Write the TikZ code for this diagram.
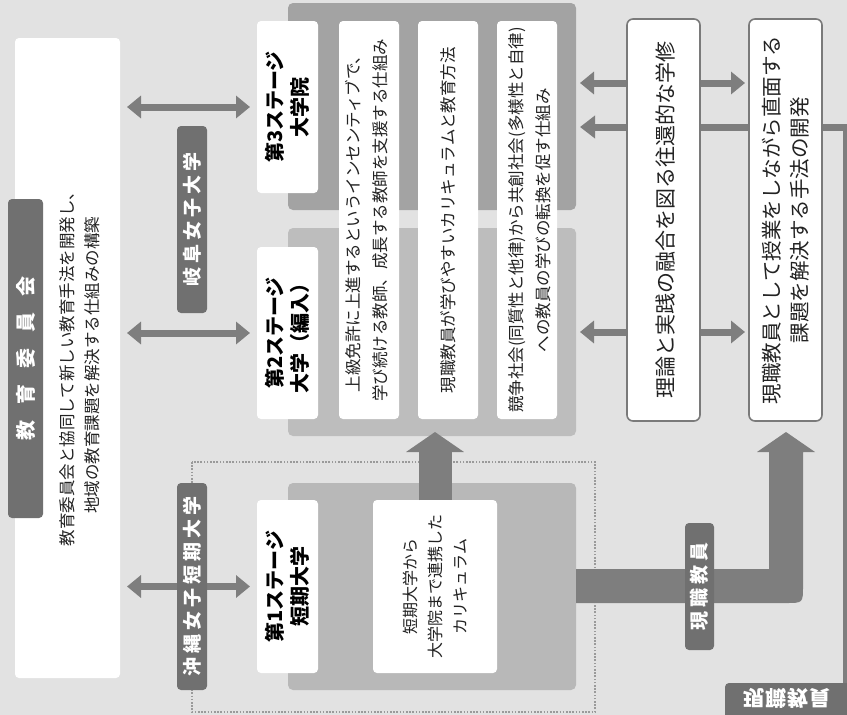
\documentclass[tikz,border=0pt]{standalone}
\usepackage{fontspec}
\setmainfont{Noto Sans CJK JP}
\usetikzlibrary{arrows.meta,calc}
\definecolor{bgc}{HTML}{E2E2E2}
\definecolor{gthree}{HTML}{A3A3A3}
\definecolor{gtwo}{HTML}{BDBDBD}
\definecolor{gone}{HTML}{B8B8B8}
\definecolor{labc}{HTML}{707070}
\definecolor{arrc}{HTML}{7E7E7E}
\definecolor{borderc}{HTML}{7A7A7A}
\definecolor{dotc}{HTML}{9A9A9A}
\definecolor{txtc}{HTML}{222222}
\tikzset{
  grp/.style={rounded corners=5pt, inner sep=0pt, outer sep=0pt},
  wbox/.style={fill=white, rounded corners=4pt, inner sep=0pt, outer sep=0pt},
  rbox/.style={fill=white, draw=borderc, line width=1.6pt, rounded corners=6pt, inner sep=0pt, outer sep=0pt},
  lab/.style={fill=labc, rounded corners=4pt, inner sep=0pt, outer sep=0pt},
  vtext/.style={rotate=90, align=center, inner sep=0pt, text=txtc},
  labtext/.style={rotate=90, align=center, inner sep=0pt, text=white, font=\bfseries\fontsize{19}{22}\selectfont},
  dbl/.style={draw=arrc, line width=7pt, {Triangle[width=22pt,length=14pt]}-{Triangle[width=22pt,length=14pt]}},
  sarrow/.style={draw=arrc, line width=7pt, -{Triangle[width=22pt,length=15pt]}},
  bigup/.style={draw=arrc, line width=33pt, -{Triangle[width=57pt,length=20pt]}},
  dotrect/.style={draw=dotc, line width=1.6pt, dash pattern=on 1.6pt off 1.6pt},
  coltext/.style={vtext, font=\fontsize{16.5}{27}\selectfont},
  stagetext/.style={vtext, font=\bfseries\fontsize{20}{25}\selectfont, text=black},
  rtext/.style={vtext, font=\fontsize{21}{28}\selectfont}
}
\begin{document}
\begin{tikzpicture}[x=1pt,y=-1pt]
\useasboundingbox (0,0) rectangle (847,715);
\fill[bgc] (0,0) rectangle (847,715);

% left white box
\node[wbox, minimum width=105pt, minimum height=640pt] (lbox) at (67.5,358) {};
\node[lab, minimum width=35pt, minimum height=319pt] (lk) at (25.5,358.5) {};
\node[labtext, font=\bfseries\fontsize{20}{24}\selectfont] at (lk) {教\hspace{16pt}育\hspace{16pt}委\hspace{16pt}員\hspace{16pt}会};
\node[vtext, font=\fontsize{16.5}{25}\selectfont] (ltxt) at (79.5,365) {教育委員会と協同して新しい教育手法を開発し、\\地域の教育課題を解決する仕組みの構築};

% dotted frame
\draw[dotrect] (192,462) rectangle (595,712);

% stage groups
\node[grp, fill=gthree, minimum width=288pt, minimum height=207pt] (g3) at (432,106.5) {};
\node[grp, fill=gtwo, minimum width=288pt, minimum height=208pt] (g2) at (432,332) {};
\node[grp, fill=gone, minimum width=288pt, minimum height=207pt] (g1) at (432,586.5) {};

% stage title boxes
\node[wbox, minimum width=61pt, minimum height=172pt] (s3) at (287.5,107) {};
\node[wbox, minimum width=61pt, minimum height=172pt] (s2) at (287.5,333) {};
\node[wbox, minimum width=61pt, minimum height=173pt] (s1) at (287.5,586.5) {};
\node[stagetext] at (s3) {第3ステージ\\大学院};
\node[stagetext] at (s2) {第2ステージ\\大学（編入）};
\node[stagetext] at (s1) {第1ステージ\\短期大学};

% left double arrows
\draw[dbl] ($(lbox.east |- s3.west)+(7,0)$) -- ($(s3.west)+(-7,0)$);
\draw[dbl] ($(lbox.east |- s2.west)+(7,0)$) -- ($(s2.west)+(-7,0)$);
\draw[dbl] ($(lbox.east |- s1.west)+(7,0)$) -- ($(s1.west)+(-7,0)$);

% university labels
\node[lab, minimum width=30pt, minimum height=187pt] (lgifu) at (192,219.5) {};
\node[labtext] at (lgifu) {岐\kern4pt 阜\kern4pt 女\kern4pt 子\kern4pt 大\kern4pt 学};
\node[lab, minimum width=30pt, minimum height=207pt] (loki) at (192,586.5) {};
\node[labtext] at (loki) {沖\kern4pt 縄\kern4pt 女\kern4pt 子\kern4pt 短\kern4pt 期\kern4pt 大\kern4pt 学};

% column boxes
\node[wbox, minimum width=60pt, minimum height=398pt] (c1) at (369,220) {};
\node[wbox, minimum width=60pt, minimum height=398pt] (c2) at (448,220) {};
\node[wbox, minimum width=60pt, minimum height=398pt] (c3) at (527,220) {};
\node[coltext] at ($(c1)+(-2.5,0)$) {上級免許に上進するというインセンティブで、\\学び続ける教師、成長する教師を支援する仕組み};
\node[coltext] at (c2) {現職教員が学びやすいカリキュラムと教育方法};
\node[coltext] at ($(c3)+(3,0)$) {競争社会(同質性と他律)から共創社会(多様性と自律)\\への教員の学びの転換を促す仕組み};

% curriculum box and up arrow
\node[wbox, minimum width=124pt, minimum height=173pt] (cur) at (435,586.5) {};
\node[vtext, font=\fontsize{16}{25}\selectfont] at (cur) {短期大学から\\大学院まで連携した\\カリキュラム};
\draw[bigup] (cur.north) -- (cur.north |- 0,432);

% bottom-right label and feedback line
\coordinate (yA) at (0,83);
\coordinate (fbc) at (845,127);
\node[lab, minimum width=140pt, minimum height=50pt, anchor=north west] (lbr) at (725,683) {};
\node[text=white, inner sep=0pt, yscale=-1, font=\bfseries\fontsize{21}{24}\selectfont] at (787,698) {現\kern1pt 職\kern1pt 教\kern1pt 員};
\draw[arrc, line width=5pt] (fbc |- lbr.north) -- (fbc);
\draw[sarrow] ($(fbc)+(2.5,0)$) -- ($(g3.east |- fbc)+(4,0)$);

% right double arrows (behind right boxes)
\coordinate (rb2w) at (749,0);
\draw[dbl] ($(g3.east |- yA)+(4,0)$) -- ($(rb2w |- yA)+(-4,0)$);
\draw[dbl] ($(g2.east)+(4,0)$) -- ($(rb2w |- g2.east)+(-4,0)$);

% right boxes
\node[rbox, minimum width=73pt, minimum height=402pt] (rb1) at (663.5,220) {};
\node[rbox, minimum width=73pt, minimum height=402pt] (rb2) at (785.5,220) {};
\node[rtext] at ($(rb1)+(1.5,0)$) {理論と実践の融合を図る往還的な学修};
\node[rtext, font=\fontsize{20.5}{28}\selectfont] at ($(rb2)+(0.5,0)$) {現職教員として授業をしながら直面する\\課題を解決する手法の開発};

% L-shaped thick arrow
\fill[arrc] (g1.east |- 0,569) -- (769,569) -- (769,452) -- (757,452) -- (786,432) -- (815,452) -- (803,452) -- (803,586) .. controls (803,603) .. (786,603) -- (g1.east |- 0,603) -- cycle;
\node[lab, minimum width=29pt, minimum height=127pt] (lgen) at (699.5,586.5) {};
\node[labtext] at (lgen) {現\kern4pt 職\kern4pt 教\kern4pt 員};
\end{tikzpicture}
\end{document}
